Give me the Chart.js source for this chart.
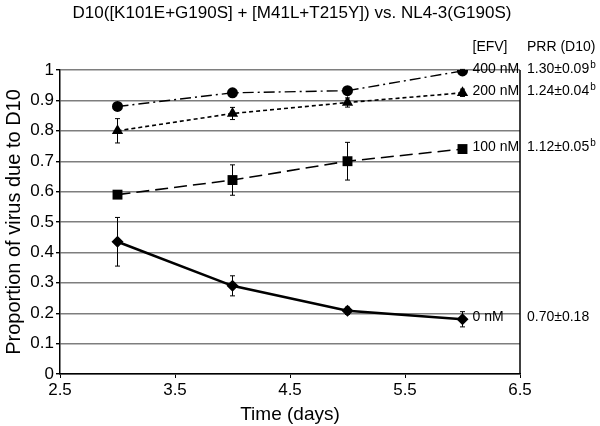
<!DOCTYPE html>
<html>
<head>
<meta charset="utf-8">
<script src="https://cdn.jsdelivr.net/npm/chart.js@4.4.1/dist/chart.umd.min.js"></script>
<style>
  html, body { margin: 0; padding: 0; background: #fff; }
  #wrap { width: 600px; height: 426px; }
</style>
</head>
<body>
<div id="wrap"><canvas id="c" width="600" height="426"></canvas></div>
<script>
// --- Data ---
const days = [3, 4, 5, 6];
const xTicks = [2.5, 3.5, 4.5, 5.5, 6.5];
const efvLabels = ['0 nM', '100 nM', '200 nM', '400 nM'];
const prrLabels = ['0.70±0.18', '1.12±0.05', '1.24±0.04', '1.30±0.09'];
const prrSup = ['', 'b', 'b', 'b'];

const nM0 = [0.435, 0.29, 0.208, 0.18];
const err0 = [0.08, 0.033, 0.012, 0.025];
const nM100 = [0.59, 0.638, 0.70, 0.74];
const err100 = [0.005, 0.05, 0.062, 0.005];
const nM200 = [0.80, 0.857, 0.893, 0.925];
const err200 = [0.04, 0.02, 0.015, 0.012];
const nM400 = [0.88, 0.925, 0.932, 0.997];
const err400 = [0.006, 0.005, 0.005, 0.005];

const chartTitle = 'D10([K101E+G190S] + [M41L+T215Y]) vs. NL4-3(G190S)';
const FONT = "'Liberation Sans', Arial, Helvetica, sans-serif";

const pts = (ys) => days.map((d, i) => ({ x: d, y: ys[i] }));

const series = [
    { label: efvLabels[0], data: pts(nM0), err: err0, pointStyle: 'rectRot', pointRadius: 6, borderWidth: 2.6, borderDash: [] },
    { label: efvLabels[1], data: pts(nM100), err: err100, pointStyle: 'rect', pointRadius: 7, borderWidth: 1.6, borderDash: [13, 6] },
    { label: efvLabels[2], data: pts(nM200), err: err200, pointStyle: 'triangle', pointRadius: 6.5, borderWidth: 1.6, borderDash: [4, 3] },
    { label: efvLabels[3], data: pts(nM400), err: err400, pointStyle: 'circle', pointRadius: 5.5, borderWidth: 1.4, borderDash: [11, 4, 2, 4] }
];

// --- Plugins ---
const errorBars = {
    id: 'errorBars',
    afterDatasetsDraw(chart) {
        const { ctx, scales: { x, y } } = chart;
        ctx.save();
        ctx.strokeStyle = '#000';
        ctx.lineWidth = 1;
        chart.data.datasets.forEach(ds => {
            ds.data.forEach((p, i) => {
                const e = ds.err[i];
                if (!e) return;
                const px = x.getPixelForValue(p.x);
                const top = y.getPixelForValue(p.y + e);
                const bot = y.getPixelForValue(p.y - e);
                ctx.beginPath();
                ctx.moveTo(px, top); ctx.lineTo(px, bot);
                ctx.moveTo(px - 2.5, top); ctx.lineTo(px + 2.5, top);
                ctx.moveTo(px - 2.5, bot); ctx.lineTo(px + 2.5, bot);
                ctx.stroke();
            });
        });
        ctx.restore();
    }
};

const frameAndLabels = {
    id: 'frameAndLabels',
    beforeDatasetsDraw(chart) {
        const { ctx, chartArea: a } = chart;
        ctx.save();
        ctx.strokeStyle = '#000';
        ctx.lineWidth = 1.5;
        ctx.beginPath();
        ctx.moveTo(a.right, a.top);
        ctx.lineTo(a.right, a.bottom);
        ctx.stroke();
        ctx.restore();
    },
    afterDraw(chart) {
        const { ctx, chartArea: a, scales: { x, y } } = chart;
        const prrX = a.right + 7;
        ctx.save();
        ctx.fillStyle = '#000';
        // title, centred a little right of the plot box like the original
        ctx.font = '17px ' + FONT;
        ctx.textAlign = 'center';
        ctx.textBaseline = 'middle';
        ctx.fillText(chartTitle, chart.width / 2 - 8, 13);

        ctx.font = '14px ' + FONT;
        ctx.textAlign = 'left';
        ctx.fillText('[EFV]', x.getPixelForValue(days[3]) + 10, a.top - 23);
        ctx.fillText('PRR (D10)', prrX, a.top - 23);
        chart.data.datasets.forEach((ds, i) => {
            const last = ds.data[ds.data.length - 1];
            const py = y.getPixelForValue(last.y) - 2;
            ctx.font = '14px ' + FONT;
            ctx.fillText(ds.label, x.getPixelForValue(last.x) + 10, py);
            ctx.fillText(prrLabels[i], prrX, py);
            if (prrSup[i]) {
                const w = ctx.measureText(prrLabels[i]).width;
                ctx.font = '10px ' + FONT;
                ctx.fillText(prrSup[i], prrX + w + 1, py - 4);
            }
        });
        ctx.restore();
    }
};

new Chart(document.getElementById('c'), {
    type: 'line',
    data: {
        datasets: series.map(s => ({
            label: s.label,
            data: s.data,
            err: s.err,
            borderColor: '#000',
            backgroundColor: '#000',
            borderWidth: s.borderWidth,
            borderDash: s.borderDash,
            pointStyle: s.pointStyle,
            pointRadius: s.pointRadius,
            pointBorderWidth: 0,
            pointBackgroundColor: '#000',
            tension: 0,
            fill: false
        }))
    },
    options: {
        responsive: false,
        animation: false,
        layout: { padding: { top: 70, right: 80, bottom: 0, left: 0 } },
        plugins: {
            legend: { display: false },
            tooltip: { enabled: false },
            title: { display: false }
        },
        scales: {
            x: {
                type: 'linear',
                min: 2.5, max: 6.5,
                afterBuildTicks: (s) => { s.ticks = xTicks.map(v => ({ value: v })); },
                afterFit: (s) => { s.height = 52; },
                grid: { drawOnChartArea: false, tickLength: 4, tickColor: '#000' },
                border: { color: '#000', width: 1.5 },
                ticks: { color: '#000', padding: 2, font: { family: FONT, size: 17 }, callback: v => v },
                title: { display: true, text: 'Time (days)', color: '#000', padding: { top: 0, bottom: 0 }, font: { family: FONT, size: 19 } }
            },
            y: {
                min: 0, max: 1,
                afterFit: (s) => { s.width = 60; },
                grid: { color: '#7e7e7e', lineWidth: 1.4, tickLength: 4, tickColor: '#000' },
                border: { color: '#000', width: 1.5 },
                ticks: { stepSize: 0.1, color: '#000', padding: 2, font: { family: FONT, size: 17 }, callback: v => Math.round(v * 10) / 10 },
                title: { display: true, text: 'Proportion of virus due to D10', color: '#000', padding: { top: 2, bottom: 0 }, font: { family: FONT, size: 20 } }
            }
        }
    },
    plugins: [errorBars, frameAndLabels]
});
</script>
</body>
</html>
